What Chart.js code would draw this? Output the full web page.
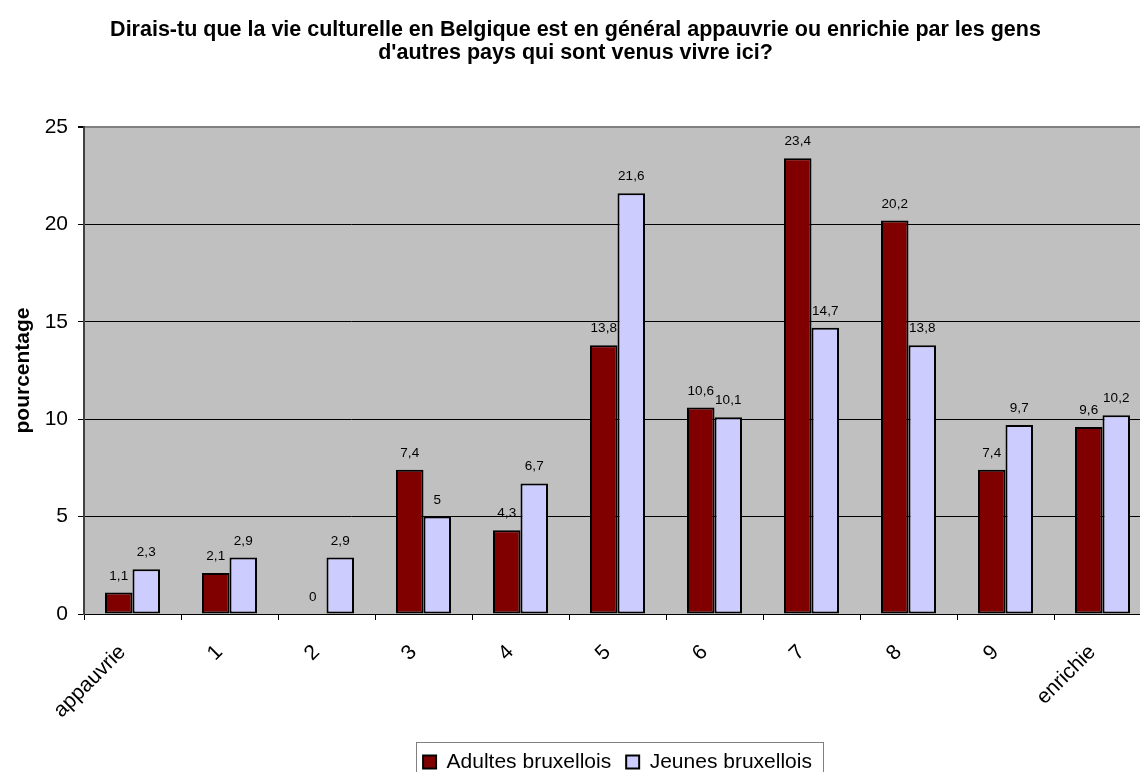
<!DOCTYPE html>
<html>
<head>
<meta charset="utf-8">
<title>vie culturelle en Belgique</title>
<script src="https://cdn.jsdelivr.net/npm/chart.js@4"></script>
<style>
    body { margin: 0; overflow: hidden; background: #fff; }
    #wrap { width: 1140px; height: 772px; overflow: hidden; }
</style>
</head>
<body>
<div id="wrap"><canvas id="myChart" width="1152" height="772"></canvas></div>
<script>
let categories = ["appauvrie", "1", "2", "3", "4", "5", "6", "7", "8", "9", "enrichie"];
let adultes = [1.1, 2.1, 0, 7.4, 4.3, 13.8, 10.6, 23.4, 20.2, 7.4, 9.6];
let jeunes = [2.3, 2.9, 2.9, 5, 6.7, 21.6, 10.1, 14.7, 13.8, 9.7, 10.2];
let yTicks = [0, 5, 10, 15, 20, 25];
let titleLines = [
    "Dirais-tu que la vie culturelle en Belgique est en général appauvrie ou enrichie par les gens",
    "d'autres pays qui sont venus vivre ici?"
];

let font = "'Liberation Sans', Arial, sans-serif";

// grey plot background
let plotBg = {
    id: "plotBg",
    beforeDraw: function(chart) {
        let a = chart.chartArea;
        let ctx = chart.ctx;
        ctx.save();
        ctx.fillStyle = "#C0C0C0";
        ctx.fillRect(a.left, a.top, a.right - a.left, a.bottom - a.top);
        ctx.restore();
    }
};

// value labels over the bars, with a comma
let valueLabels = {
    id: "valueLabels",
    afterDatasetsDraw: function(chart) {
        let ctx = chart.ctx;
        ctx.save();
        ctx.font = "13.5px " + font;
        ctx.fillStyle = "#000";
        ctx.textAlign = "center";
        ctx.textBaseline = "alphabetic";
        chart.data.datasets.forEach((ds, i) => {
            chart.getDatasetMeta(i).data.forEach((bar, j) => {
                let txt = String(ds.data[j]).replace(".", ",");
                ctx.fillText(txt, bar.x, bar.y - 13);
            });
        });
        ctx.restore();
    }
};

// frame around the legend
let legendFrame = {
    id: "legendFrame",
    afterDraw: function(chart) {
        let hb = chart.legend.legendHitBoxes;
        if (!hb || !hb.length) return;
        let last = hb[hb.length - 1];
        let left = Math.round(hb[0].left - 7);
        let right = Math.round(last.left + last.width + 11);
        let ctx = chart.ctx;
        ctx.save();
        ctx.strokeStyle = "#808080";
        ctx.lineWidth = 1;
        ctx.strokeRect(left + 0.5, 742.5, right - left, 60);
        ctx.restore();
    }
};

let ctx = document.getElementById("myChart").getContext("2d");

let chart = new Chart(ctx, {
    type: "bar",
    data: {
        labels: categories,
        datasets: [{
            label: "Adultes bruxellois",
            data: adultes,
            backgroundColor: "#800000",
            borderColor: "#000",
            borderWidth: 2,
            borderSkipped: false
        }, {
            label: "Jeunes bruxellois",
            data: jeunes,
            backgroundColor: "#CCCCFF",
            borderColor: "#000",
            borderWidth: 2,
            borderSkipped: false
        }]
    },
    options: {
        responsive: false,
        animation: false,
        devicePixelRatio: 1,
        layout: { padding: { left: 0, right: 1, top: 0, bottom: -10.5 } },
        datasets: {
            bar: { categoryPercentage: 0.567, barPercentage: 1.0 }
        },
        plugins: {
            title: {
                display: true,
                text: titleLines,
                color: "#000",
                font: { family: font, size: 21.5, weight: "bold", lineHeight: 1.1 },
                padding: { top: 18, bottom: 61.7 }
            },
            legend: {
                position: "bottom",
                fullSize: false,
                labels: {
                    color: "#000",
                    font: { family: font, size: 21 },
                    boxWidth: 13,
                    boxHeight: 13,
                    padding: 15
                }
            },
            tooltip: { enabled: false }
        },
        scales: {
            x: {
                grid: {
                    offset: true,
                    drawOnChartArea: false,
                    color: "#000",
                    tickLength: 6
                },
                border: { color: "#000", width: 1 },
                ticks: {
                    color: "#000",
                    font: { family: font, size: 21 },
                    minRotation: 45,
                    maxRotation: 45,
                    padding: 20,
                    labelOffset: -10
                },
                afterFit: function(scale) { scale.height = 122.5; }
            },
            y: {
                min: 0,
                max: 25,
                afterBuildTicks: function(scale) {
                    scale.ticks = yTicks.map(v => ({ value: v }));
                },
                grid: {
                    color: c => c.tick && c.tick.value === 25 ? "#808080" : "#000",
                    lineWidth: c => c.tick && c.tick.value === 25 ? 2 : 1,
                    tickColor: "#000",
                    tickLength: 6
                },
                border: { color: "#404040", width: 2 },
                ticks: {
                    color: "#000",
                    font: { family: font, size: 21 },
                    padding: 10
                },
                title: {
                    display: true,
                    text: "pourcentage",
                    color: "#000",
                    font: { family: font, size: 21, weight: "bold" },
                    padding: { top: 11, bottom: 0 }
                },
                afterFit: function(scale) { scale.width = 84; }
            }
        }
    },
    plugins: [plotBg, valueLabels, legendFrame]
});
</script>
</body>
</html>
